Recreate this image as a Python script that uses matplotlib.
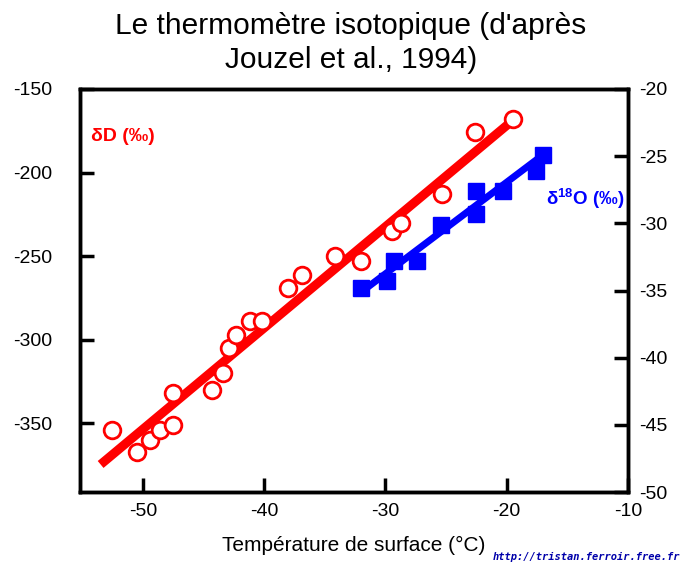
import numpy as np
import matplotlib.pyplot as plt

plt.rcParams['font.family'] = ['Liberation Sans', 'DejaVu Sans']
plt.rcParams['axes.unicode_minus'] = False

# deutérium (cercles rouges)
T_dD = [-52.6, -50.5, -49.4, -48.6, -47.5, -47.5, -44.3, -43.4, -42.9, -42.3,
        -41.2, -40.2, -38.0, -36.9, -34.2, -32.0, -29.5, -28.7, -25.3, -22.6, -19.5]
dD = [-354, -367, -360, -354, -351, -332, -330, -320, -305, -297,
      -289, -289, -269, -261, -250, -253, -235, -230, -213, -176, -168]

# oxygène 18 (carrés bleus)
T_d18O = [-32.0, -29.9, -29.3, -27.4, -25.4, -22.5, -22.5, -20.3, -17.6, -17.0]
d18O = [-34.8, -34.3, -32.8, -32.8, -30.1, -29.3, -27.6, -27.6, -26.1, -24.9]

# droites de regression
fit_T_dD = [-53.5, -19.2]
fit_dD = [-374.5, -167.0]
fit_T_18O = [-32.2, -17.0]
fit_18O = [-35.25, -24.9]

fig = plt.figure(figsize=(6.81, 5.63), dpi=100)
ax = fig.add_axes([0.1175, 0.126, 0.8045, 0.716])
ax2 = ax.twinx()

ax.plot(fit_T_dD, fit_dD, color='#ff0000', lw=6.5, solid_capstyle='butt', zorder=2)
ax.plot(T_dD, dD, 'o', ms=12, mfc='white', mec='#ff0000', mew=2, zorder=3)
ax2.plot(fit_T_18O, fit_18O, color='#0000ff', lw=5, solid_capstyle='butt', zorder=2)
ax2.plot(T_d18O, d18O, 's', ms=11, color='#0000ff', zorder=3)

ax.set_xlim(-55.2, -10)
ax.set_ylim(-391, -150)
ax2.set_ylim(-50, -20)
ax.set_xticks([-50, -40, -30, -20, -10])
ax.set_yticks([-150, -200, -250, -300, -350])
ax2.set_yticks([-20, -25, -30, -35, -40, -45, -50])

for a in (ax, ax2):
    for s in a.spines.values():
        s.set_linewidth(2.5)
ax.tick_params(axis='both', direction='in', length=10, width=2.5, labelsize=14)
ax.tick_params(axis='y', pad=20)
ax.tick_params(axis='x', pad=8)
ax2.tick_params(axis='y', direction='in', length=10, width=2.5, labelsize=14, pad=8)

ax.set_xlabel('Température de surface (°C)', fontsize=15, labelpad=11)
fig.suptitle("Le thermomètre isotopique (d'après\nJouzel et al., 1994)",
             fontsize=21.5, x=0.515, y=0.978, linespacing=1.25)

ax.text(0.02, 0.872, 'δD (‰)', transform=ax.transAxes, color='#ff0000',
        fontsize=14, fontweight='bold')
ax.text(0.85, 0.712, 'δ$^{\\mathregular{18}}$O (‰)', transform=ax.transAxes, color='#0000ff',
        fontsize=13.5, fontweight='bold')

fig.text(0.999, 0.002, 'http://tristan.ferroir.free.fr', ha='right', va='bottom',
         family='DejaVu Sans Mono', fontweight='bold', style='italic',
         fontsize=7.5, color='#0000aa')

fig.savefig('out.png', dpi=100)
